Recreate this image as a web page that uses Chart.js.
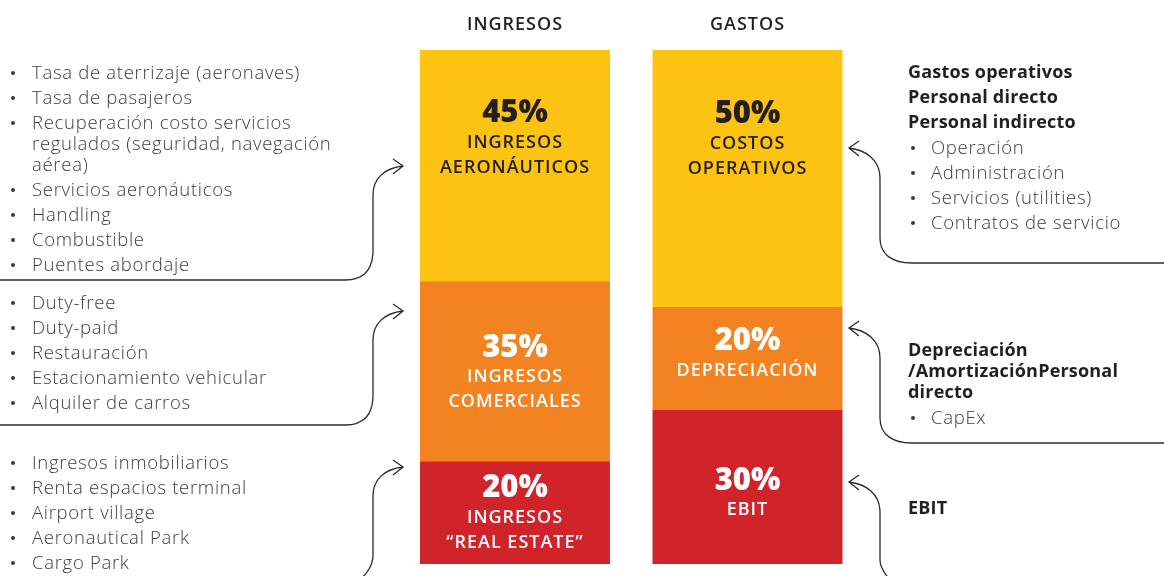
<!DOCTYPE html>
<html lang="es">
<head>
<meta charset="utf-8">
<title>Ingresos y gastos</title>
<script src="https://cdn.jsdelivr.net/npm/chart.js@4/dist/chart.umd.min.js"></script>
<style>
  html, body { margin: 0; padding: 0; background: #fff; }
  #wrap { position: relative; width: 1164px; height: 576px; overflow: hidden; font-family: "Open Sans", sans-serif; }
  #chart { position: absolute; left: 0; top: 0; }
  #links { position: absolute; left: 0; top: 0; }
  .notes { position: absolute; margin: 0; padding: 0; list-style: none; font-size: 18.5px; line-height: 21px; letter-spacing: 0.7px; color: #3c3c3c; font-weight: 300; white-space: nowrap; }
  .notes li { position: relative; padding-left: 32px; margin-bottom: 4px; }
  .notes li.b::before { content: ""; position: absolute; left: 11px; top: 10px; width: 4px; height: 4px; border-radius: 50%; background: #3c3c3c; }
  .notes.right li { padding-left: 23px; }
  .notes.right li.b::before { left: 3px; }
  .notes li.h { padding-left: 0; font-size: 18px; font-weight: 700; color: #231f20; letter-spacing: 0.2px; }
</style>
</head>
<body>
<div id="wrap">
  <canvas id="chart" width="1164" height="576"></canvas>

  <ul class="notes" style="left:0; top:61px;">
    <li class="b">Tasa de aterrizaje (aeronaves)</li>
    <li class="b">Tasa de pasajeros</li>
    <li class="b">Recuperación costo servicios<br>regulados (seguridad, navegación<br>aérea)</li>
    <li class="b">Servicios aeronáuticos</li>
    <li class="b">Handling</li>
    <li class="b">Combustible</li>
    <li class="b">Puentes abordaje</li>
  </ul>
  <ul class="notes" style="left:0; top:291px;">
    <li class="b">Duty-free</li>
    <li class="b">Duty-paid</li>
    <li class="b">Restauración</li>
    <li class="b">Estacionamiento vehicular</li>
    <li class="b">Alquiler de carros</li>
  </ul>
  <ul class="notes" style="left:0; top:451px;">
    <li class="b">Ingresos inmobiliarios</li>
    <li class="b">Renta espacios terminal</li>
    <li class="b">Airport village</li>
    <li class="b">Aeronautical Park</li>
    <li class="b">Cargo Park</li>
  </ul>

  <ul class="notes right" style="left:908px; top:61px;">
    <li class="h">Gastos operativos</li>
    <li class="h">Personal directo</li>
    <li class="h">Personal indirecto</li>
    <li class="b">Operación</li>
    <li class="b">Administración</li>
    <li class="b">Servicios (utilities)</li>
    <li class="b">Contratos de servicio</li>
  </ul>
  <ul class="notes right" style="left:908px; top:339px;">
    <li class="h">Depreciación<br>/AmortizaciónPersonal<br>directo</li>
    <li class="b">CapEx</li>
  </ul>
  <ul class="notes right" style="left:908px; top:497px;">
    <li class="h">EBIT</li>
  </ul>

  <svg id="links" width="1164" height="576" fill="none" stroke="#2b2b2b" stroke-width="1.3">
    <path d="M0,280 L345,280 C365,280 373,268 373,250 L373,195 C373,178 385,168 403,166 M393,159 L403,166 L393,174"/>
    <path d="M0,425 L345,425 C365,425 373,413 373,395 L373,340 C373,323 385,313 403,311 M393,304 L403,311 L393,319"/>
    <path d="M403,467 C385,469 373,479 373,496 L373,555 C373,565 368,572 360,580 M393,460 L403,467 L393,475"/>
    <path d="M849,148 C866,150 880,160 880,178 L880,238 C880,255 893,263 912,263 L1164,263 M859,141 L849,148 L859,156"/>
    <path d="M849,328 C866,330 880,340 880,358 L880,418 C880,435 893,443 912,443 L1164,443 M859,321 L849,328 L859,336"/>
    <path d="M849,482 C866,484 880,494 880,512 L880,560 C880,567 884,573 890,580 M859,475 L849,482 L859,490"/>
  </svg>
</div>

<script>
// categories and segment values (bottom to top)
const categories = ['INGRESOS', 'GASTOS'];
const ingresosValues = [20, 35, 45];
const gastosValues = [30, 20, 50];
const ingresosLabels = [['INGRESOS', '“REAL ESTATE”'], ['INGRESOS', 'COMERCIALES'], ['INGRESOS', 'AERONÁUTICOS']];
const gastosLabels = [['EBIT'], ['DEPRECIACIÓN'], ['COSTOS', 'OPERATIVOS']];

// styling
const segmentColors = ['#d1232a', '#f38321', '#fcc313'];
const textColors = ['#ffffff', '#ffffff', '#231f20'];
const labelShift = [[-24, -6], [-23, -17], [-52, -64]]; // percent label offset from segment centre

const datasets = segmentColors.map((color, i) => ({
    label: 'nivel ' + i,
    data: [ingresosValues[i], gastosValues[i]],
    backgroundColor: color,
    borderWidth: 0,
    barPercentage: 0.817,
    categoryPercentage: 1
}));

const segmentText = {
    id: 'segmentText',
    afterDatasetsDraw(chart) {
        const ctx = chart.ctx;
        const xScale = chart.scales.x;
        ctx.save();
        ctx.textAlign = 'center';
        ctx.textBaseline = 'middle';

        // column headers
        ctx.fillStyle = '#231f20';
        ctx.font = '600 18px "Open Sans"';
        ctx.letterSpacing = '1px';
        categories.forEach((c, j) => ctx.fillText(c, xScale.getPixelForValue(j), 25));

        chart.data.datasets.forEach((ds, i) => {
            const meta = chart.getDatasetMeta(i);
            meta.data.forEach((bar, j) => {
                const value = ds.data[j];
                const lines = (j === 0 ? ingresosLabels : gastosLabels)[i];
                const cy = (bar.y + bar.base) / 2 + labelShift[i][j];
                ctx.fillStyle = textColors[i];
                ctx.letterSpacing = '0px';
                ctx.font = '800 31px "Open Sans"';
                ctx.fillText(value + '%', bar.x, cy);
                ctx.letterSpacing = '1px';
                ctx.font = '600 18px "Open Sans"';
                lines.forEach((t, k) => ctx.fillText(t, bar.x, cy + 29 + k * 25));
            });
        });
        ctx.restore();
    }
};

new Chart(document.getElementById('chart'), {
    type: 'bar',
    data: { labels: categories, datasets: datasets },
    options: {
        responsive: false,
        animation: false,
        layout: { padding: { left: 398.75, right: 300.25, top: 50, bottom: 12 } },
        scales: {
            x: { stacked: true, display: false },
            y: { stacked: true, display: false, min: 0, max: 100 }
        },
        plugins: { legend: { display: false }, tooltip: { enabled: false } }
    },
    plugins: [segmentText]
});
</script>
</body>
</html>
